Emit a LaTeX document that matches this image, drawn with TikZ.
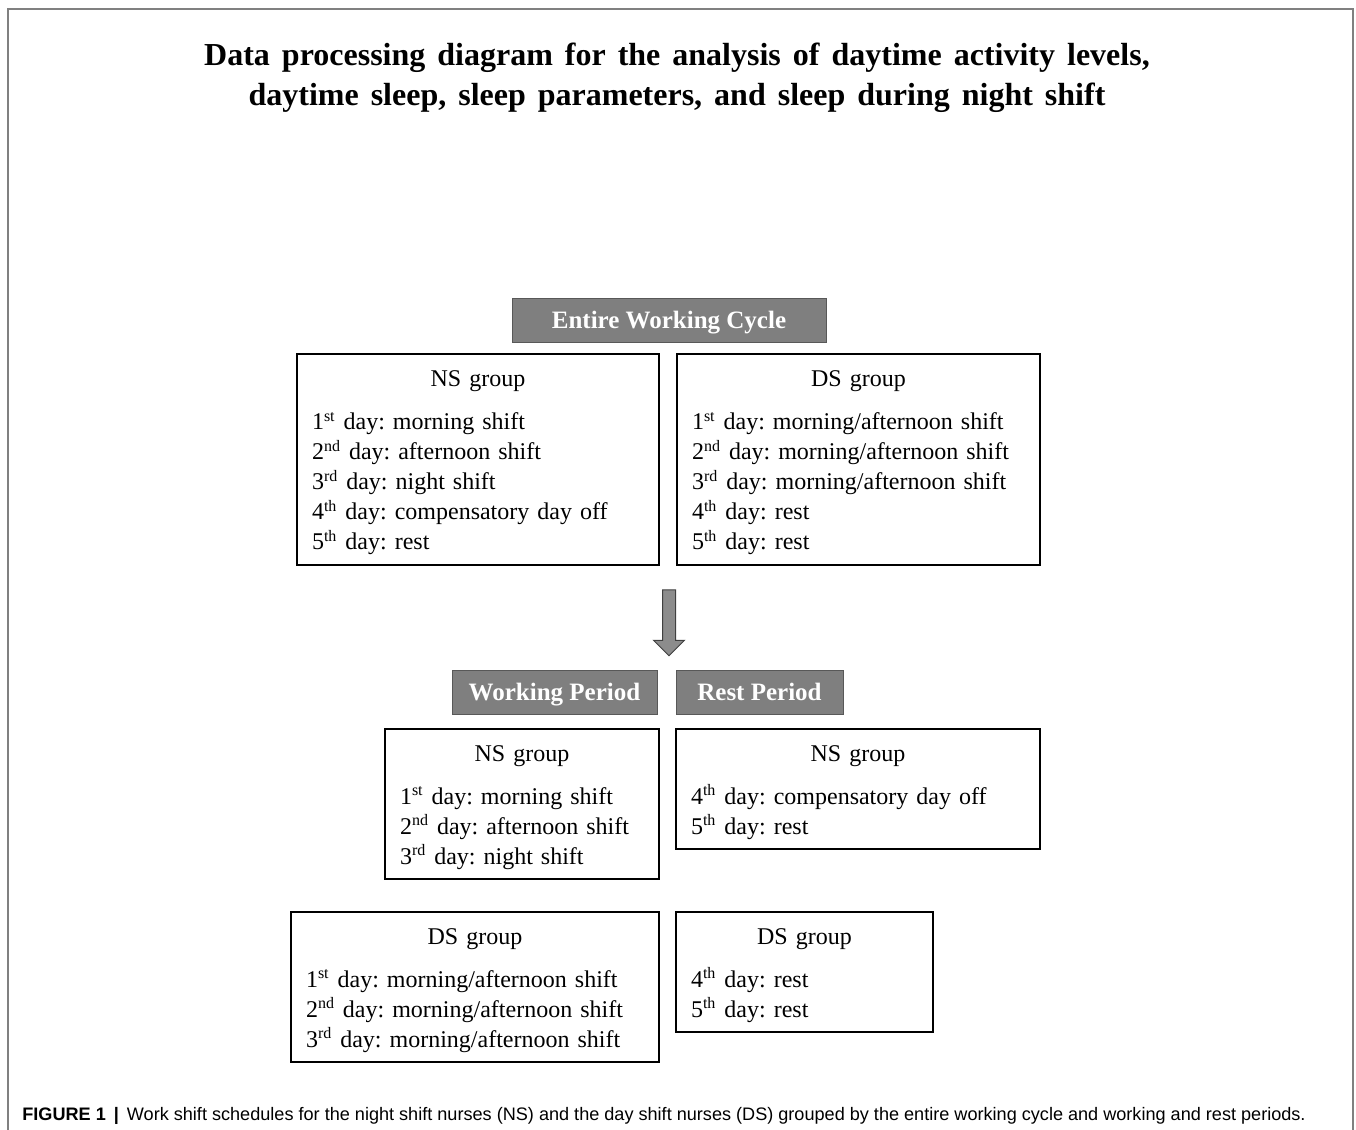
\documentclass[tikz,border=0pt]{standalone}
\usepackage{fontspec}
\setmainfont{Liberation Serif}
\newfontfamily\capfont{Liberation Sans}
\usepackage{tikz}
\usepackage{xcolor}
\usetikzlibrary{arrows.meta,positioning,shapes.arrows}

\definecolor{headgray}{RGB}{127,127,127}
\definecolor{headline}{RGB}{88,88,88}
\definecolor{framegray}{RGB}{128,128,128}
\definecolor{arrowgray}{RGB}{140,140,140}

\begin{document}
\begin{tikzpicture}[x=0.5pt,y=-0.5pt]
\tikzset{
				headbox/.style={
					draw=headline,
					fill=headgray,
					line width=0.5pt,
					text=white,
					font=\fontsize{12.5}{14}\selectfont\bfseries,
					minimum height=22pt,
					text height=10pt,
					text depth=2pt,
					inner sep=0pt
				},
				groupbox/.style={
					draw,
					line width=0.7pt,
					inner xsep=7.5pt,
					inner ysep=0pt,
					align=left,
					font=\fontsize{12}{15}\selectfont\frenchspacing,
					execute at end node={\par\vspace{-3.5pt}}
				}
			}
			\useasboundingbox (0,0) rectangle (1356,1130);
			\draw[framegray,line width=1pt] (7.5,1130) -- (7.5,8.5) -- (1352.5,8.5) -- (1352.5,1130);
			
			\node[align=center,font={\fontsize{16}{20}\selectfont\bfseries\spaceskip=6pt plus 1pt\relax}] (title) at (677,78)
				{Data processing diagram for the analysis of daytime activity levels,\\
				 daytime sleep, sleep parameters, and sleep during night shift};
			
			\node[headbox,minimum width=157pt] (cycle) at (669,320) {Entire Working Cycle};
			
			\node[groupbox,text width=166pt,minimum height=105.5pt] (nscycle) at (478,459.5)
				{\centering NS group\par\vspace{6.5pt}\raggedright
				 1\textsuperscript{st} day: morning shift\\
				 2\textsuperscript{nd} day: afternoon shift\\
				 3\textsuperscript{rd} day: night shift\\
				 4\textsuperscript{th} day: compensatory day off\\
				 5\textsuperscript{th} day: rest};
			\node[groupbox,text width=166.5pt,minimum height=105.5pt] (dscycle) at (858.5,459.5)
				{\centering DS group\par\vspace{6.5pt}\raggedright
				 1\textsuperscript{st} day: morning/afternoon shift\\
				 2\textsuperscript{nd} day: morning/afternoon shift\\
				 3\textsuperscript{rd} day: morning/afternoon shift\\
				 4\textsuperscript{th} day: rest\\
				 5\textsuperscript{th} day: rest};
			
			\node[single arrow,draw=black!75,fill=arrowgray,line width=0.5pt,
				shape border rotate=270,minimum height=33pt,minimum width=15pt,
				single arrow head extend=4.5pt,inner sep=3pt] (split) at (669,619.5) {};
			
			\node[headbox,minimum width=102.5pt] (work) at (554.5,692) {Working Period};
			\node[headbox,minimum width=83.5pt] (rest) at (759.5,692) {Rest Period};
			
			\node[groupbox,text width=122pt,minimum height=75pt] (nswork) at (522,804)
				{\centering NS group\par\vspace{6.5pt}\raggedright
				 1\textsuperscript{st} day: morning shift\\
				 2\textsuperscript{nd} day: afternoon shift\\
				 3\textsuperscript{rd} day: night shift};
			\node[groupbox,text width=167pt,minimum height=60pt] (nsrest) at (858,789)
				{\centering NS group\par\vspace{6.5pt}\raggedright
				 4\textsuperscript{th} day: compensatory day off\\
				 5\textsuperscript{th} day: rest};
			\node[groupbox,text width=169pt,minimum height=75pt] (dswork) at (475,987)
				{\centering DS group\par\vspace{6.5pt}\raggedright
				 1\textsuperscript{st} day: morning/afternoon shift\\
				 2\textsuperscript{nd} day: morning/afternoon shift\\
				 3\textsuperscript{rd} day: morning/afternoon shift};
			\node[groupbox,text width=113.5pt,minimum height=60pt] (dsrest) at (804.5,972)
				{\centering DS group\par\vspace{6.5pt}\raggedright
				 4\textsuperscript{th} day: rest\\
				 5\textsuperscript{th} day: rest};
			
			\node[anchor=west,inner sep=0pt,font=\capfont\fontsize{9.05}{11}\selectfont] (caption) at (22,1116)
				{\textbf{FIGURE 1}\hspace{4pt}\textbf{|}\hspace{4pt}Work shift schedules for the night shift nurses (NS) and the day shift nurses (DS) grouped by the entire working cycle and working and rest periods.};
\end{tikzpicture}
\end{document}
